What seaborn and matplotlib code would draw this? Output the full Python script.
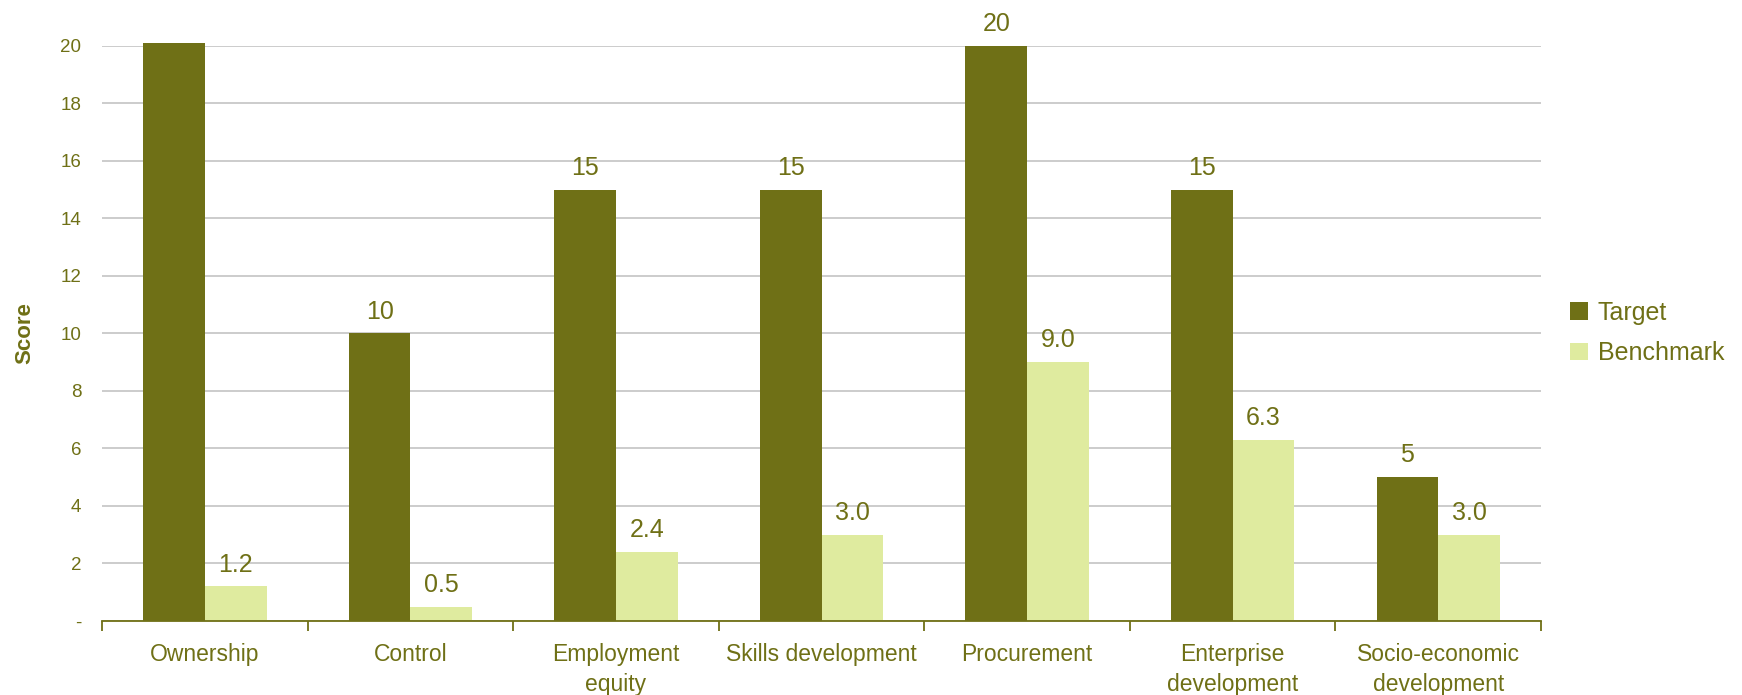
import matplotlib
matplotlib.use("Agg")
import matplotlib.pyplot as plt
import seaborn as sns
import pandas as pd
import numpy as np

categories = ["Ownership", "Control", "Employment\nequity", "Skills development",
              "Procurement", "Enterprise\ndevelopment", "Socio-economic\ndevelopment"]
target = [20.1, 10, 15, 15, 20, 15, 5]
benchmark = [1.2, 0.5, 2.4, 3.0, 9.0, 6.3, 3.0]
target_labels = ["", "10", "15", "15", "20", "15", "5"]
benchmark_labels = ["1.2", "0.5", "2.4", "3.0", "9.0", "6.3", "3.0"]
series = ["Target", "Benchmark"]
yticks = [0, 2, 4, 6, 8, 10, 12, 14, 16, 18, 20]
ytick_labels = ["-", "2", "4", "6", "8", "10", "12", "14", "16", "18", "20"]

OLIVE = "#6f7016"
LIGHT = "#dfeb9f"
TEXT = "#6f7016"

sns.set_theme(style="white")
plt.rcParams["font.family"] = ["Liberation Sans", "DejaVu Sans"]

df = pd.DataFrame({
    "Category": categories * 2,
    "Series": [series[0]] * len(categories) + [series[1]] * len(categories),
    "Score": target + benchmark,
})

fig = plt.figure(figsize=(17.42, 6.95), dpi=100)
ax = fig.add_axes([0.0586, 0.1065, 0.826, 0.8275])

sns.barplot(data=df, x="Category", y="Score", hue="Series", order=categories,
            hue_order=series, palette=[OLIVE, LIGHT], width=0.6, saturation=1,
            ax=ax, legend=True)

for p in ax.patches:
    p.set_clip_on(False)
    p.set_edgecolor("none")

ax.set_ylim(0, 20)
ax.set_xlim(-0.5, len(categories) - 0.5)
ax.set_yticks(yticks)
ax.set_yticklabels(ytick_labels)
ax.yaxis.grid(True, color="#c8c8c8", linewidth=1.3)
ax.set_axisbelow(True)

for s in ["top", "right", "left"]:
    ax.spines[s].set_visible(False)
ax.spines["bottom"].set_color(OLIVE)
ax.spines["bottom"].set_linewidth(1.3)

ax.tick_params(axis="y", length=0, labelsize=13.5, labelcolor=TEXT, pad=15)
ax.tick_params(axis="x", which="major", length=0, labelsize=16.5, labelcolor=TEXT, pad=16)
for lab in ax.get_xticklabels():
    lab.set_linespacing(1.35)
ax.set_xticks(np.arange(-0.5, len(categories), 1.0), minor=True)
ax.tick_params(axis="x", which="minor", bottom=True, length=7, color=OLIVE, width=1.3,
               direction="out")

ax.set_xlabel("")
ax.set_ylabel("Score", fontsize=16, fontweight="bold", color=TEXT, labelpad=18)

# value labels
for cont, labs in zip(ax.containers, [target_labels, benchmark_labels]):
    ax.bar_label(cont, labels=labs, padding=7, fontsize=18, color=TEXT)

leg = ax.legend(loc="center left", bbox_to_anchor=(0.9013, 0.521), bbox_transform=fig.transFigure,
                frameon=False, fontsize=18, handlelength=0.7, handleheight=0.7,
                handletextpad=0.4, labelspacing=0.65, borderpad=0, borderaxespad=0)
for t in leg.get_texts():
    t.set_color(TEXT)

fig.savefig("out.png", dpi=100)
